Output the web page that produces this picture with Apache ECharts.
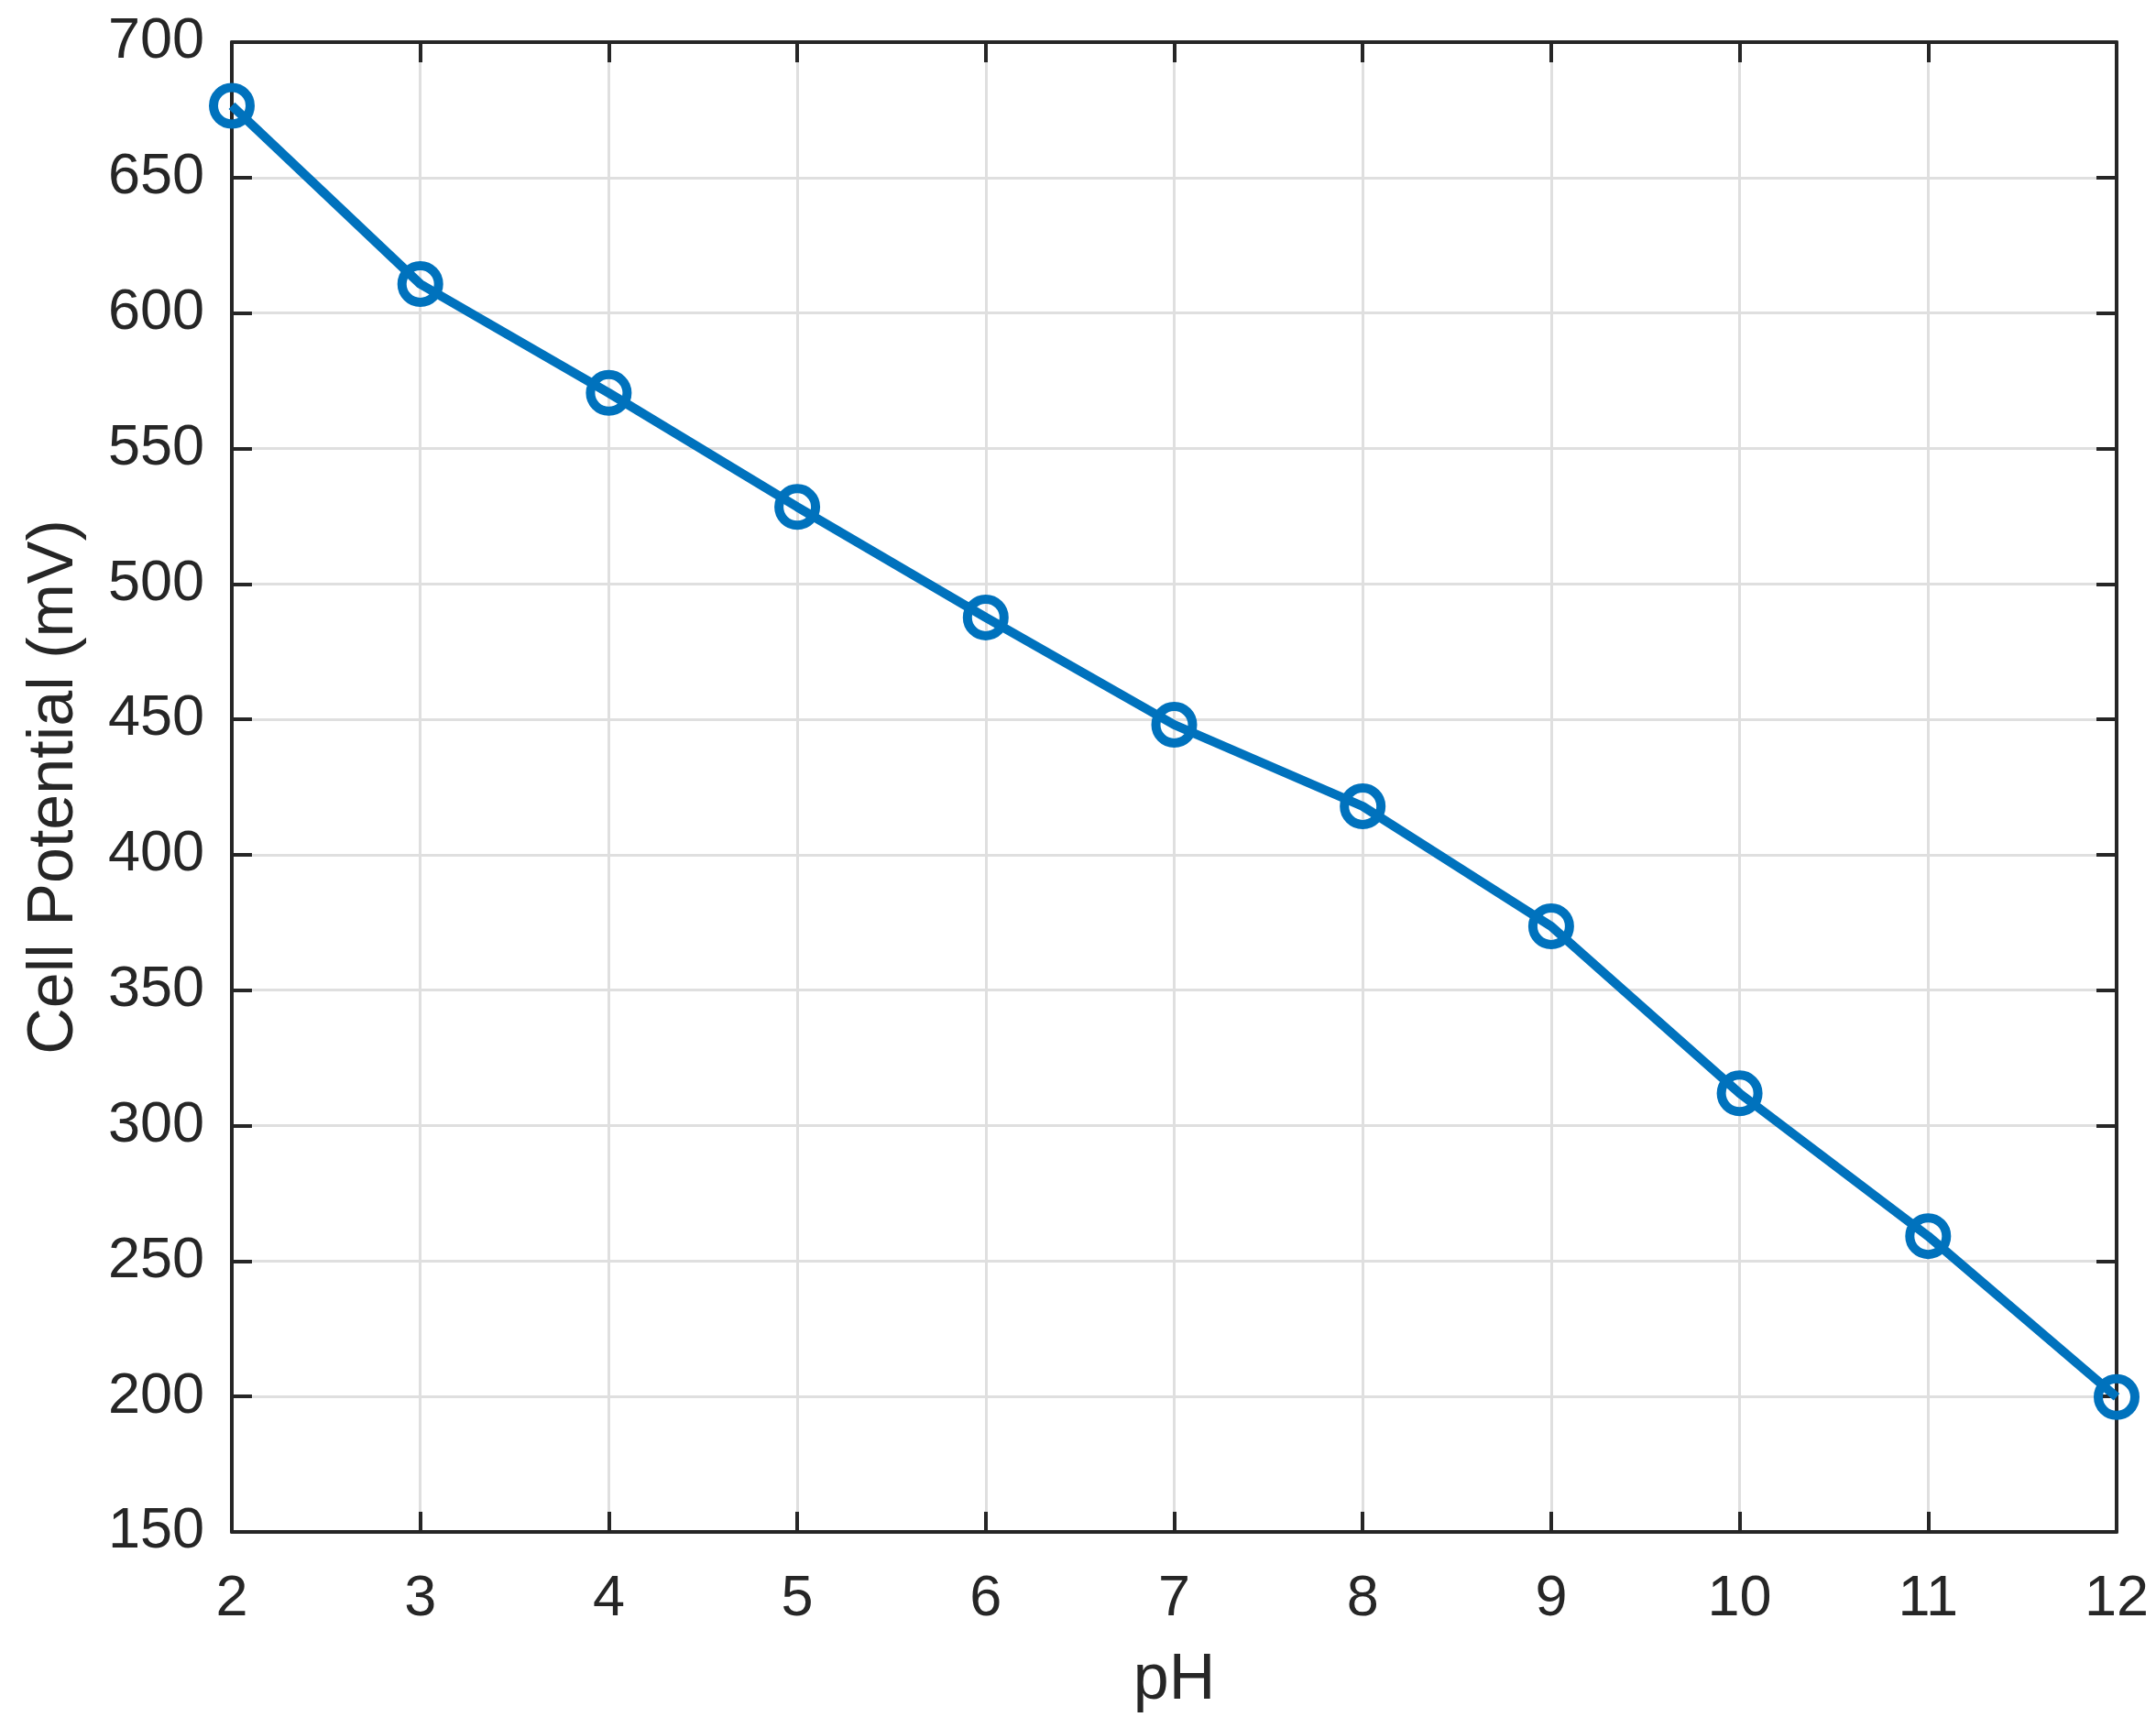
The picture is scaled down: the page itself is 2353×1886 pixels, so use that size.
<!DOCTYPE html>
<html>
<head>
<meta charset="utf-8">
<script src="https://cdn.jsdelivr.net/npm/echarts@6/dist/echarts.min.js"></script>
<style>
html,body{margin:0;padding:0;background:#fff;}
#c{width:2353px;height:1886px;}
</style>
</head>
<body>
<div id="c"></div>
<script>
const phValues = [2, 3, 4, 5, 6, 7, 8, 9, 10, 11, 12];
const cellPotential = [676.5, 610.7, 570.5, 528.4, 487.6, 448, 417.9, 373.6, 311.9, 259.2, 199.8];
const xTicks = {min: 2, max: 12, interval: 1};
const yTicks = {min: 150, max: 700, interval: 50};
const xName = 'pH';
const yName = 'Cell Potential (mV)';

const FONT = '"Liberation Sans", Arial, Helvetica, sans-serif';
const DARK = '#262626';
const GRIDC = '#dfdfdf';

const chart = echarts.init(document.getElementById('c'), null, {renderer: 'canvas'});

function axisBase(extra) {
  return Object.assign({
    type: 'value',
    axisLine: {show: true, onZero: false, lineStyle: {color: DARK, width: 4}},
    axisTick: {show: true, inside: true, length: 22, lineStyle: {color: DARK, width: 4}},
    splitLine: {show: false},
    axisLabel: {show: false}
  }, extra);
}

const option = {
  backgroundColor: '#ffffff',
  animation: false,
  grid: {left: 253, right: 43, top: 46, bottom: 214, containLabel: false},
  xAxis: [
    axisBase({
      position: 'bottom',
      min: xTicks.min, max: xTicks.max, interval: xTicks.interval,
      name: xName, nameLocation: 'middle', nameGap: 128,
      nameTextStyle: {fontFamily: FONT, fontSize: 70, color: DARK},
      splitLine: {show: true, lineStyle: {color: GRIDC, width: 3}},
      axisLabel: {show: true, margin: 42, fontFamily: FONT, fontSize: 63, color: DARK}
    }),
    axisBase({position: 'top', min: xTicks.min, max: xTicks.max, interval: xTicks.interval})
  ],
  yAxis: [
    axisBase({
      position: 'left',
      min: yTicks.min, max: yTicks.max, interval: yTicks.interval,
      name: yName, nameLocation: 'middle', nameGap: 158, nameRotate: 90,
      nameTextStyle: {fontFamily: FONT, fontSize: 70, color: DARK},
      splitLine: {show: true, lineStyle: {color: GRIDC, width: 3}},
      axisLabel: {show: true, margin: 30, fontFamily: FONT, fontSize: 63, color: DARK}
    }),
    axisBase({position: 'right', min: yTicks.min, max: yTicks.max, interval: yTicks.interval})
  ],
  series: [{
    type: 'line',
    xAxisIndex: 0,
    yAxisIndex: 0,
    data: phValues.map((x, i) => [x, cellPotential[i]]),
    clip: false,
    lineStyle: {color: '#0072BD', width: 10},
    symbol: 'circle',
    symbolSize: 40,
    itemStyle: {color: 'rgba(0,0,0,0)', borderColor: '#0072BD', borderWidth: 10},
    z: 5
  }]
};
chart.setOption(option);
</script>
</body>
</html>
